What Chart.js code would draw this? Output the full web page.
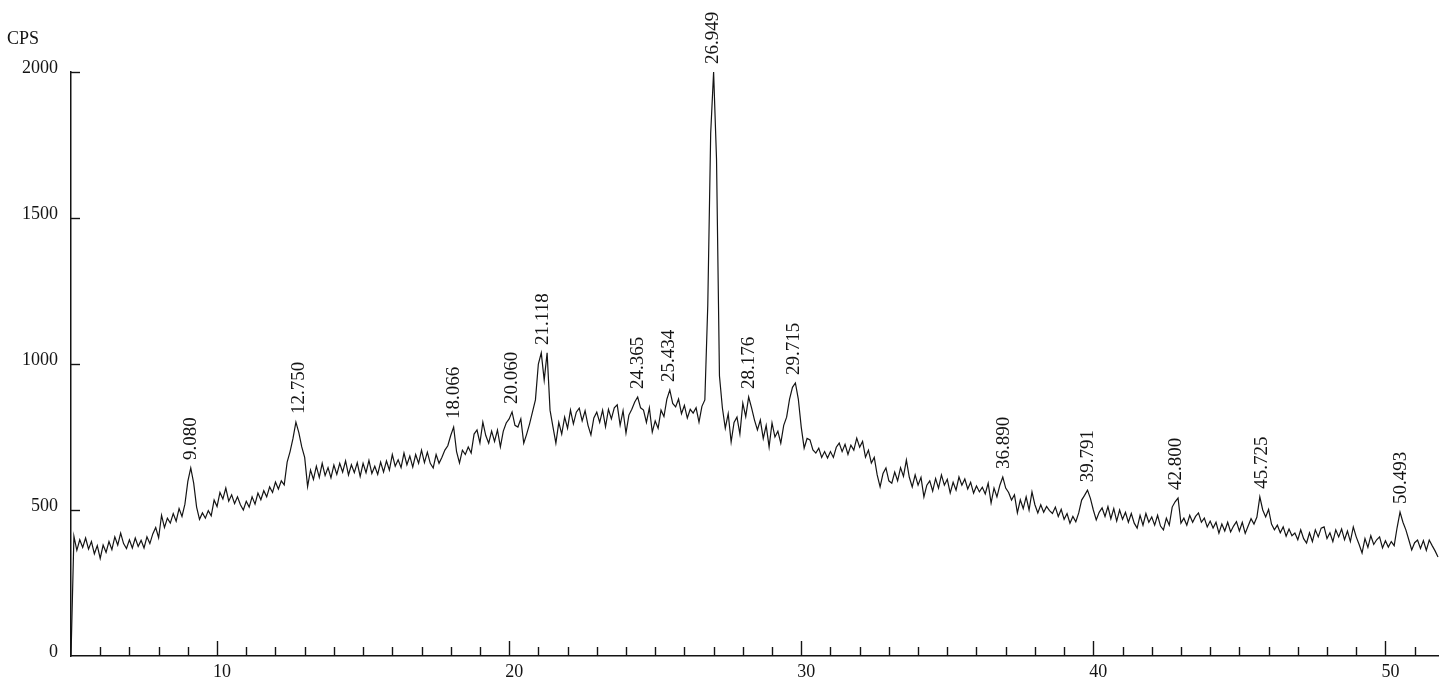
<!DOCTYPE html>
<html>
<head>
<meta charset="utf-8">
<script src="https://cdn.jsdelivr.net/npm/chart.js@4"></script>
<style>
  html, body { margin: 0; padding: 0; background: #ffffff; }
  #wrap { width: 1444px; height: 685px; position: relative; }
</style>
</head>
<body>
<div id="wrap"><canvas id="c" width="1444" height="685"></canvas></div>
<script>
// 2θ sampling grid of the scan
const START_2THETA = 5.0;
const STEP_2THETA = 0.1;

// Intensity (CPS), one row per degree from 5.0 to 51.8
const cps = [
  0, 410, 362, 398, 372, 404, 366, 392, 350, 378,
  334, 380, 355, 392, 364, 408, 380, 421, 385, 368,
  398, 370, 404, 375, 396, 370, 408, 385, 418, 440,
  405, 482, 440, 472, 455, 488, 462, 505, 478, 520,
  598, 644, 592, 510, 468, 490, 472, 498, 480, 534,
  512, 560, 538, 575, 530, 552, 522, 545, 518, 500,
  530, 510, 545, 520, 558, 535, 566, 545, 579, 560,
  596, 572, 600, 586, 664, 700, 745, 801, 765, 716,
  680, 580, 637, 605, 650, 612, 660, 618, 645, 610,
  654, 622, 660, 630, 668, 620, 655, 628, 662, 615,
  660, 628, 670, 625, 650, 622, 664, 630, 668, 637,
  690, 650, 672, 645, 695, 655, 685, 647, 690, 660,
  705, 662, 698, 660, 644, 690, 660, 681, 705, 720,
  755, 784, 700, 661, 705, 690, 716, 695, 760, 774,
  730, 801, 755, 729, 770, 735, 774, 716, 770, 798,
  812, 836, 790, 784, 812, 729, 760, 795, 836, 877,
  1000, 1038, 945, 1038, 842, 785, 729, 800, 760, 818,
  780, 842, 795, 835, 849, 805, 840, 790, 757, 815,
  835, 800, 842, 785, 845, 812, 850, 860, 790, 840,
  763, 825, 845, 870, 887, 850, 842, 800, 850, 767,
  805, 780, 842, 820, 880, 911, 865, 853, 880, 830,
  858, 815, 845, 832, 850, 801, 855, 877, 1200, 1790,
  2000, 1700, 960, 850, 780, 830, 733, 800, 818, 760,
  866, 820, 887, 850, 808, 774, 808, 745, 790, 716,
  798, 750, 770, 729, 790, 818, 880, 920, 935, 880,
  784, 712, 745, 740, 706, 695, 712, 680, 700, 678,
  700, 680, 715, 729, 700, 725, 690, 722, 705, 746,
  715, 735, 681, 705, 661, 680, 620, 579, 625, 644,
  600, 592, 630, 600, 645, 615, 671, 612, 579, 620,
  585, 612, 545, 585, 600, 565, 608, 575, 620, 585,
  605, 558, 595, 568, 613, 585, 606, 572, 595, 558,
  582, 562, 578, 555, 592, 524, 575, 545, 585, 613,
  575, 560, 534, 552, 490, 535, 505, 545, 500, 562,
  518, 490, 518, 492, 512, 498, 488, 510, 478, 502,
  468, 488, 455, 478, 460, 490, 534, 550, 568, 540,
  500, 466, 492, 507, 478, 512, 470, 505, 462, 500,
  468, 492, 458, 488, 455, 438, 482, 448, 488, 458,
  476, 448, 482, 445, 432, 472, 448, 510, 528, 541,
  455, 472, 448, 482, 458, 478, 490, 458, 472, 442,
  462, 438, 458, 421, 452, 428, 458, 425, 445, 460,
  428, 458, 420, 445, 470, 452, 476, 545, 500, 476,
  502, 452, 432, 448, 422, 442, 410, 435, 412, 421,
  398, 432, 402, 387, 422, 392, 432, 408, 438, 442,
  402, 422, 392, 432, 408, 435, 398, 428, 392, 442,
  408, 382, 353, 402, 372, 412, 382, 398, 408, 370,
  395, 373, 392, 378, 440, 493, 458, 432, 398, 363,
  388, 397, 368, 395, 362, 397, 378, 360, 339
];

// Peak position labels (2θ)
const peakLabels = ["9.080", "12.750", "18.066", "20.060", "21.118", "24.365", "25.434",
  "26.949", "28.176", "29.715", "36.890", "39.791", "42.800", "45.725", "50.493"];

// Axis ticks
const yTickValues = [0, 500, 1000, 1500, 2000];
const xMajorLabels = [10, 20, 30, 40, 50];
const X_MIN = 5.0, X_MAX = 51.8, Y_MIN = 0, Y_MAX = 2000;
const yAxisTitle = "CPS";

const points = cps.map((v, i) => ({ x: +(START_2THETA + i * STEP_2THETA).toFixed(2), y: v }));

const FONT = '"Liberation Serif", "Times New Roman", serif';
const INK = '#141414';

const decorPlugin = {
  id: 'decor',
  afterDraw(chart) {
    const ctx = chart.ctx;
    const xs = chart.scales.x, ys = chart.scales.y;
    const y0 = ys.getPixelForValue(Y_MIN);
    const x0 = xs.getPixelForValue(X_MIN);
    ctx.save();
    ctx.strokeStyle = INK;
    ctx.lineWidth = 1.4;
    // inward x ticks
    for (let v = Math.ceil(X_MIN); v <= X_MAX; v++) {
      if (v === X_MIN) continue;
      const px = Math.round(xs.getPixelForValue(v)) + 0.5;
      const len = (v % 10 === 0) ? 15 : 9;
      ctx.beginPath();
      ctx.moveTo(px, y0);
      ctx.lineTo(px, y0 - len);
      ctx.stroke();
    }
    // inward y ticks
    yTickValues.forEach(v => {
      if (v === 0) return;
      const py = Math.round(ys.getPixelForValue(v)) + 0.5;
      ctx.beginPath();
      ctx.moveTo(x0, py);
      ctx.lineTo(x0 + 9, py);
      ctx.stroke();
    });
    // y title
    ctx.fillStyle = INK;
    ctx.font = '18px ' + FONT;
    ctx.textAlign = 'left';
    ctx.textBaseline = 'alphabetic';
    ctx.fillText(yAxisTitle, 7, 44);
    // peak labels
    ctx.font = '19px ' + FONT;
    peakLabels.forEach(lbl => {
      const xv = parseFloat(lbl);
      let best = -Infinity;
      points.forEach(p => {
        if (Math.abs(p.x - xv) <= 0.16 && p.y > best) { best = p.y; }
      });
      const px = xs.getPixelForValue(xv + 0.04);
      const py = ys.getPixelForValue(best) - 8;
      ctx.save();
      ctx.translate(px, py);
      ctx.rotate(-Math.PI / 2);
      ctx.textAlign = 'left';
      ctx.textBaseline = 'middle';
      ctx.fillText(lbl, 0, 0);
      ctx.restore();
    });
    ctx.restore();
  }
};

new Chart(document.getElementById('c'), {
  type: 'line',
  data: {
    datasets: [{
      data: points,
      borderColor: INK,
      borderWidth: 1.2,
      pointRadius: 0,
      tension: 0,
      fill: false,
      clip: 6
    }]
  },
  options: {
    responsive: false,
    animation: false,
    events: [],
    layout: { padding: { top: 72, right: 6, left: 0, bottom: 0 } },
    plugins: { legend: { display: false }, tooltip: { enabled: false } },
    scales: {
      x: {
        type: 'linear',
        min: X_MIN,
        max: X_MAX,
        afterFit(scale) { scale.height = 29; },
        afterBuildTicks(scale) {
          scale.ticks = xMajorLabels.map(v => ({ value: v }));
        },
        grid: { display: false, drawTicks: false },
        border: { display: true, color: INK, width: 1.5 },
        ticks: {
          autoSkip: false,
          maxRotation: 0,
          padding: 5,
          labelOffset: 5,
          color: INK,
          font: { family: FONT, size: 18 },
          callback: v => String(v)
        }
      },
      y: {
        type: 'linear',
        min: Y_MIN,
        max: Y_MAX,
        afterFit(scale) { scale.width = 71; },
        afterBuildTicks(scale) {
          scale.ticks = yTickValues.map(v => ({ value: v }));
        },
        grid: { display: false, drawTicks: false },
        border: { display: true, color: INK, width: 1.5 },
        ticks: {
          padding: 13,
          labelOffset: -4,
          color: INK,
          font: { family: FONT, size: 18 },
          callback: v => String(v)
        }
      }
    }
  },
  plugins: [decorPlugin]
});
</script>
</body>
</html>
